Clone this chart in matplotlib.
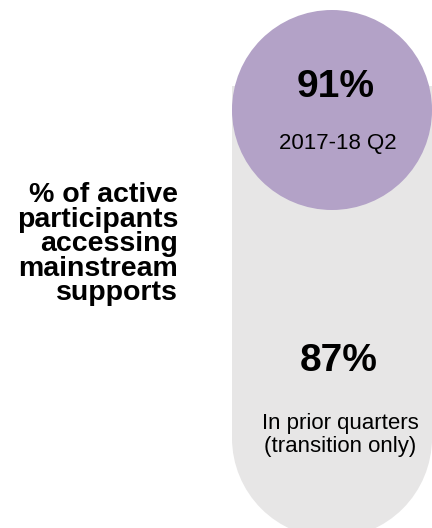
import matplotlib.pyplot as plt
from matplotlib.patches import Circle, Rectangle

# values shown in the chart
headline = "% of active\nparticipants\naccessing\nmainstream\nsupports"
values = [91, 87]
value_labels = ["2017-18 Q2", "In prior quarters\n(transition only)"]

purple = "#B3A2C7"
grey = "#E7E6E6"

plt.rcParams['font.family'] = ['Liberation Sans', 'DejaVu Sans']

fig = plt.figure(figsize=(4.32, 5.28), dpi=100)
ax = fig.add_axes([0, 0, 1, 1])
ax.set_xlim(0, 432)
ax.set_ylim(528, 0)
ax.axis('off')

# grey pill: flat top, round bottom
cx, r = 332, 100
pill_top, pill_bot = 86, 438
ax.add_patch(Rectangle((cx - r, pill_top), 2 * r, pill_bot - pill_top, color=grey, lw=0))
ax.add_patch(Circle((cx, pill_bot), r, color=grey, lw=0))

# purple circle for the current quarter
ax.add_patch(Circle((cx, 110), r, color=purple, lw=0))

ax.text(336, 87, f"{values[0]}%", ha='center', va='center', fontsize=28, fontweight='bold')
ax.text(338, 144, value_labels[0], ha='center', va='center', fontsize=16)
ax.text(339, 361, f"{values[1]}%", ha='center', va='center', fontsize=28, fontweight='bold')
ax.text(340, 435, value_labels[1], ha='center', va='center', fontsize=16, linespacing=1.1)

# last line's baseline sits at y=300
ax.text(178, 300, headline, ha='right', va='baseline', fontsize=20.5, fontweight='bold',
        linespacing=0.92)

fig.savefig("out.png", dpi=100)
